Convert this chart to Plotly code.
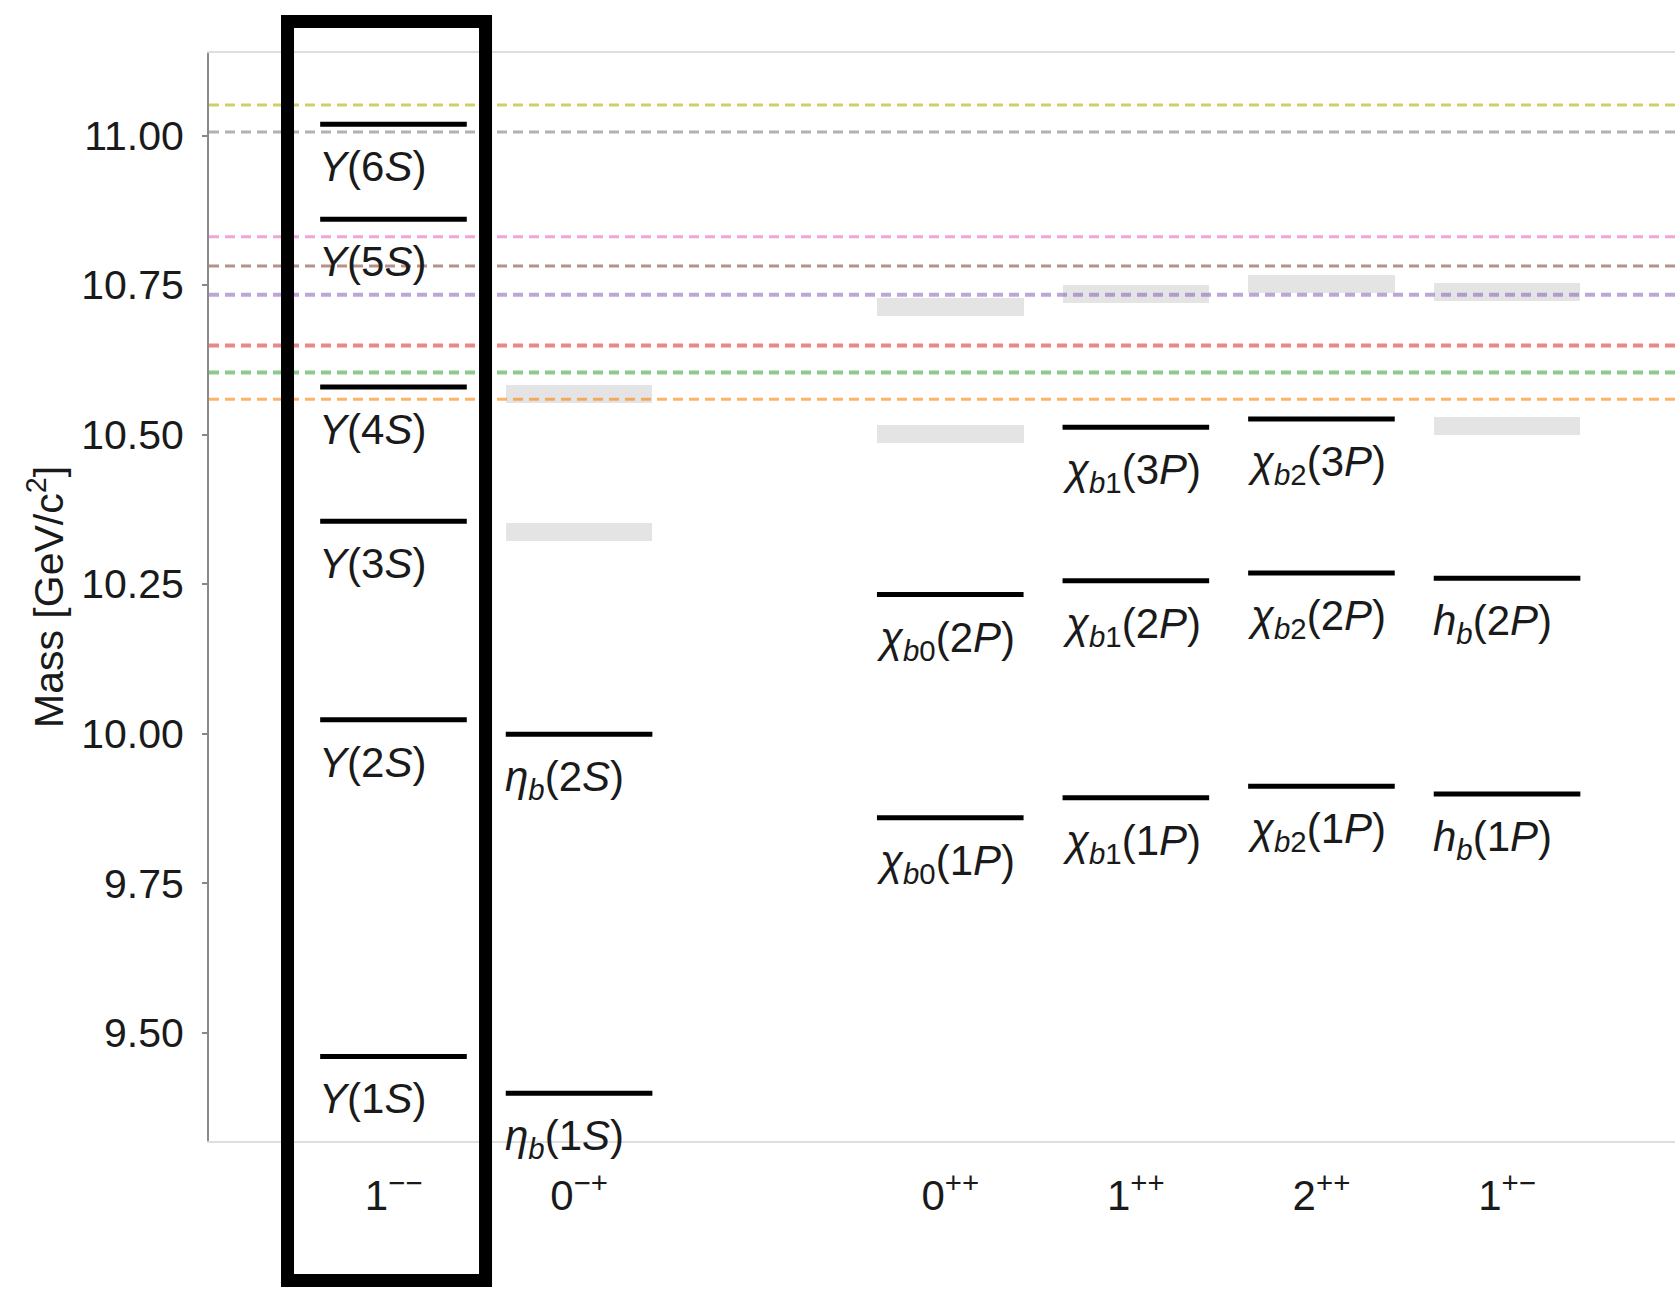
import plotly.graph_objects as go

# ---------------- data ----------------
categories = ["1--", "0-+", "0++", "1++", "2++", "1+-"]
category_positions = [0, 1, 3, 4, 5, 6]
tick_labels = ["1<sup>−−</sup>", "0<sup>−+</sup>", "0<sup>++</sup>",
               "1<sup>++</sup>", "2<sup>++</sup>", "1<sup>+−</sup>"]

# observed bottomonium states
state_labels = [
    "<i>Υ</i>(1<i>S</i>)", "<i>Υ</i>(2<i>S</i>)", "<i>Υ</i>(3<i>S</i>)",
    "<i>Υ</i>(4<i>S</i>)", "<i>Υ</i>(5<i>S</i>)", "<i>Υ</i>(6<i>S</i>)",
    "<i>η</i><sub><i>b</i></sub>(1<i>S</i>)", "<i>η</i><sub><i>b</i></sub>(2<i>S</i>)",
    "<i>χ</i><sub><i>b</i>0</sub>(1<i>P</i>)", "<i>χ</i><sub><i>b</i>0</sub>(2<i>P</i>)",
    "<i>χ</i><sub><i>b</i>1</sub>(1<i>P</i>)", "<i>χ</i><sub><i>b</i>1</sub>(2<i>P</i>)",
    "<i>χ</i><sub><i>b</i>1</sub>(3<i>P</i>)",
    "<i>χ</i><sub><i>b</i>2</sub>(1<i>P</i>)", "<i>χ</i><sub><i>b</i>2</sub>(2<i>P</i>)",
    "<i>χ</i><sub><i>b</i>2</sub>(3<i>P</i>)",
    "<i>h</i><sub><i>b</i></sub>(1<i>P</i>)", "<i>h</i><sub><i>b</i></sub>(2<i>P</i>)",
]
state_category = ["1--"] * 6 + ["0-+"] * 2 + ["0++"] * 2 + ["1++"] * 3 + ["2++"] * 3 + ["1+-"] * 2
state_mass = [9.4603, 10.0233, 10.3552, 10.5794, 10.860, 11.019,
              9.3987, 9.999,
              9.8594, 10.2325,
              9.8928, 10.2555, 10.5125,
              9.9122, 10.2687, 10.526,
              9.8993, 10.2598]

# predicted (unobserved) states, grey bands
pred_category = ["0-+", "0-+", "0++", "0++", "1++", "2++", "1+-", "1+-"]
pred_mass = [10.337, 10.568, 10.501, 10.714, 10.735, 10.752, 10.515, 10.739]
pred_height = [0.03, 0.03, 0.03, 0.03, 0.03, 0.03, 0.03, 0.03]

# open-bottom thresholds
threshold_mass = [10.559, 10.604, 10.649, 10.734, 10.782, 10.831, 11.006, 11.051]
threshold_color = ["rgba(255,127,14,0.6)", "rgba(44,160,44,0.55)", "rgba(214,39,40,0.55)",
                   "rgba(148,103,189,0.6)", "rgba(140,86,75,0.65)", "rgba(227,119,194,0.65)",
                   "rgba(127,127,127,0.6)", "rgba(188,189,34,0.7)"]
threshold_width = [3, 4, 4, 4, 3, 3, 3, 3]

y_ticks = [9.50, 9.75, 10.00, 10.25, 10.50, 10.75, 11.00]

# ---------------- figure ----------------
HALF = 0.395
FONT = "Liberation Sans, Arial, Helvetica, sans-serif"

def pos(cat):
    return category_positions[categories.index(cat)]

fig = go.Figure()

# grey prediction bands
fig.add_trace(go.Bar(
    x=[pos(c) for c in pred_category],
    y=pred_height,
    base=[m - h / 2 for m, h in zip(pred_mass, pred_height)],
    width=2 * HALF,
    marker=dict(color="#e4e4e4", line=dict(width=0)),
    hoverinfo="skip", showlegend=False,
))

# observed levels
xs, ys = [], []
for c, m in zip(state_category, state_mass):
    k = pos(c)
    xs += [k - HALF, k + HALF, None]
    ys += [m, m, None]
fig.add_trace(go.Scatter(x=xs, y=ys, mode="lines",
                         line=dict(color="black", width=5),
                         hoverinfo="skip", showlegend=False))

# threshold dashed lines
for m, col, w in zip(threshold_mass, threshold_color, threshold_width):
    fig.add_shape(type="line", xref="paper", yref="y", x0=0, x1=1, y0=m, y1=m,
                  line=dict(color=col, width=w, dash="10px,6px"), layer="above")

# state labels
for lab, c, m in zip(state_labels, state_category, state_mass):
    fig.add_annotation(x=pos(c) - HALF, y=m, text=lab, showarrow=False,
                       xanchor="left", yanchor="top", yshift=-17, xshift=-3,
                       font=dict(family=FONT, size=42, color="#1a1a1a"))

# y-axis title
fig.add_annotation(xref="paper", yref="paper", x=-0.1112, y=0.5,
                   text="Mass [GeV/c<sup>2</sup>]", textangle=-90, showarrow=False,
                   xanchor="center", yanchor="middle",
                   font=dict(family=FONT, size=41, color="#1a1a1a"))

# highlight box around the 1-- column
fig.add_shape(type="rect", xref="x", yref="paper",
              x0=-0.571, x1=0.496, y0=-0.1282, y1=1.029,
              line=dict(color="black", width=13), fillcolor="rgba(0,0,0,0)", layer="above")

fig.update_layout(
    width=1675, height=1289, autosize=False,
    margin=dict(l=209, r=0, t=53, b=148, pad=0),
    plot_bgcolor="white", paper_bgcolor="white",
    barmode="overlay", bargap=0,
    font=dict(family=FONT, color="#1a1a1a"),
    showlegend=False,
)
fig.update_xaxes(
    range=[-0.994, 6.905], tickmode="array",
    tickvals=category_positions, ticktext=tick_labels,
    tickfont=dict(size=42, color="#1a1a1a"),
    ticks="", ticklabelstandoff=17,
    showgrid=False, zeroline=False,
    showline=True, mirror=True, linecolor="#dedede", linewidth=2,
)
fig.update_yaxes(
    range=[9.319, 11.138], tickmode="array", tickvals=y_ticks,
    ticktext=[f"{v:.2f}" for v in y_ticks],
    tickfont=dict(size=41, color="#1a1a1a"),
    ticks="outside", ticklen=5, tickcolor="#888888", tickwidth=2,
    ticklabelstandoff=10,
    showgrid=False, zeroline=False,
    showline=True, linecolor="#8a8a8a", linewidth=2,
)

fig.write_html("out.html", config={"displayModeBar": False},
               post_script="document.body.style.margin='0';")
